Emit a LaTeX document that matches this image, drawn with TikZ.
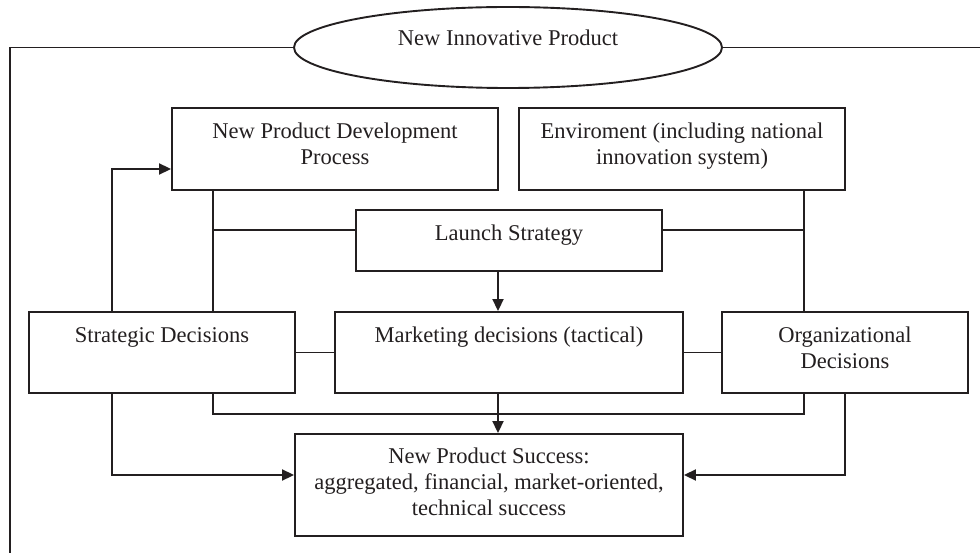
\documentclass[tikz,border=0pt]{standalone}
\usepackage{fontspec}
\setmainfont{Liberation Serif}
\usetikzlibrary{shapes.geometric,arrows.meta,calc}
\definecolor{ink}{RGB}{35,31,32}
\begin{document}
\begin{tikzpicture}[x=1bp,y=-1bp,
  box/.style={draw=ink, rectangle, inner sep=0pt, line width=1.9bp},
  oval/.style={draw=ink, ellipse, inner sep=0pt, line width=1.9bp},
  txt/.style={text=ink, font=\fontsize{22.6}{26.1}\selectfont, align=center, inner sep=0pt, anchor=north},
  link/.style={draw=ink, line width=1.9bp},
  arr/.style={link, -{Triangle[length=12bp,width=11bp]}}]
\useasboundingbox (0,0) rectangle (980,553);

% shapes
\node[oval, minimum width=428bp, minimum height=81bp] (inn) at (508,47.5) {};
\node[box, minimum width=326bp, minimum height=82bp] (npd) at (335,149) {};
\node[box, minimum width=326bp, minimum height=82bp] (env) at (682,149) {};
\node[box, minimum width=306bp, minimum height=61bp] (launch) at (509,240.5) {};
\node[box, minimum width=266bp, minimum height=81bp] (strat) at (162,352.5) {};
\node[box, minimum width=348bp, minimum height=81bp] (mkt) at (509,352.5) {};
\node[box, minimum width=246bp, minimum height=81bp] (org) at (845,352.5) {};
\node[box, minimum width=388bp, minimum height=102bp] (succ) at (489,485) {};

% texts
\node[txt] (innT) at ($(inn.north)+(0,20.7)$) {\strut New Innovative Product};
\node[txt] (npdT) at ($(npd.north)+(0,12.7)$) {\strut New Product Development\\Process};
\node[txt] (envT) at ($(env.north)+(0,12.7)$) {\strut Enviroment (including national\\innovation system)};
\node[txt] (launchT) at ($(launch.north)+(0,12.7)$) {\strut Launch Strategy};
\node[txt] (stratT) at ($(strat.north)+(0,12.7)$) {\strut Strategic Decisions};
\node[txt] (mktT) at ($(mkt.north)+(0,12.7)$) {\strut Marketing decisions (tactical)};
\node[txt] (orgT) at ($(org.north)+(0,12.7)$) {\strut Organizational\\Decisions};
\node[txt] (succT) at ($(succ.north)+(0,11.7)$) {\strut New Product Success:\\aggregated, financial, market-oriented,\\technical success};

% helper coordinates
\coordinate (fl) at (10,553);
\coordinate (fr) at (980,47.5);
\coordinate (busL) at (213,414);
\coordinate (busR) at (804,414);
\coordinate (ls) at (213,230);
\coordinate (mx) at (498,0);
\coordinate (fb) at (112,169);
\coordinate (sl) at (112,475);
\coordinate (sr) at (845,475);

% outer frame lines
\draw[link] (inn.west) -| (fl);
\draw[link] (inn.east) -- (fr);

% bus lines
\draw[link] (npd.south -| busL) -- (strat.north -| busL);
\draw[link] (env.south -| busR) -- (org.north -| busR);
\draw[link] (ls) -- (launch.west |- ls);
\draw[link] (launch.east |- ls) -- (busR |- ls);
\draw[link] (strat.south -| busL) -- (busL) -- (busR) -- (org.south -| busR);
\draw[link] (strat.east) -- (mkt.west);
\draw[link] (mkt.east) -- (org.west);

% arrows
\draw[arr] (launch.south -| mx) -- (mkt.north -| mx);
\draw[arr] (mkt.south -| mx) -- (succ.north -| mx);
\draw[arr] (strat.north -| fb) -- (fb) -- (npd.west |- fb);
\draw[arr] (strat.south -| sl) -- (sl) -- (succ.west |- sl);
\draw[arr] (org.south -| sr) -- (sr) -- (succ.east |- sr);
\end{tikzpicture}
\end{document}
